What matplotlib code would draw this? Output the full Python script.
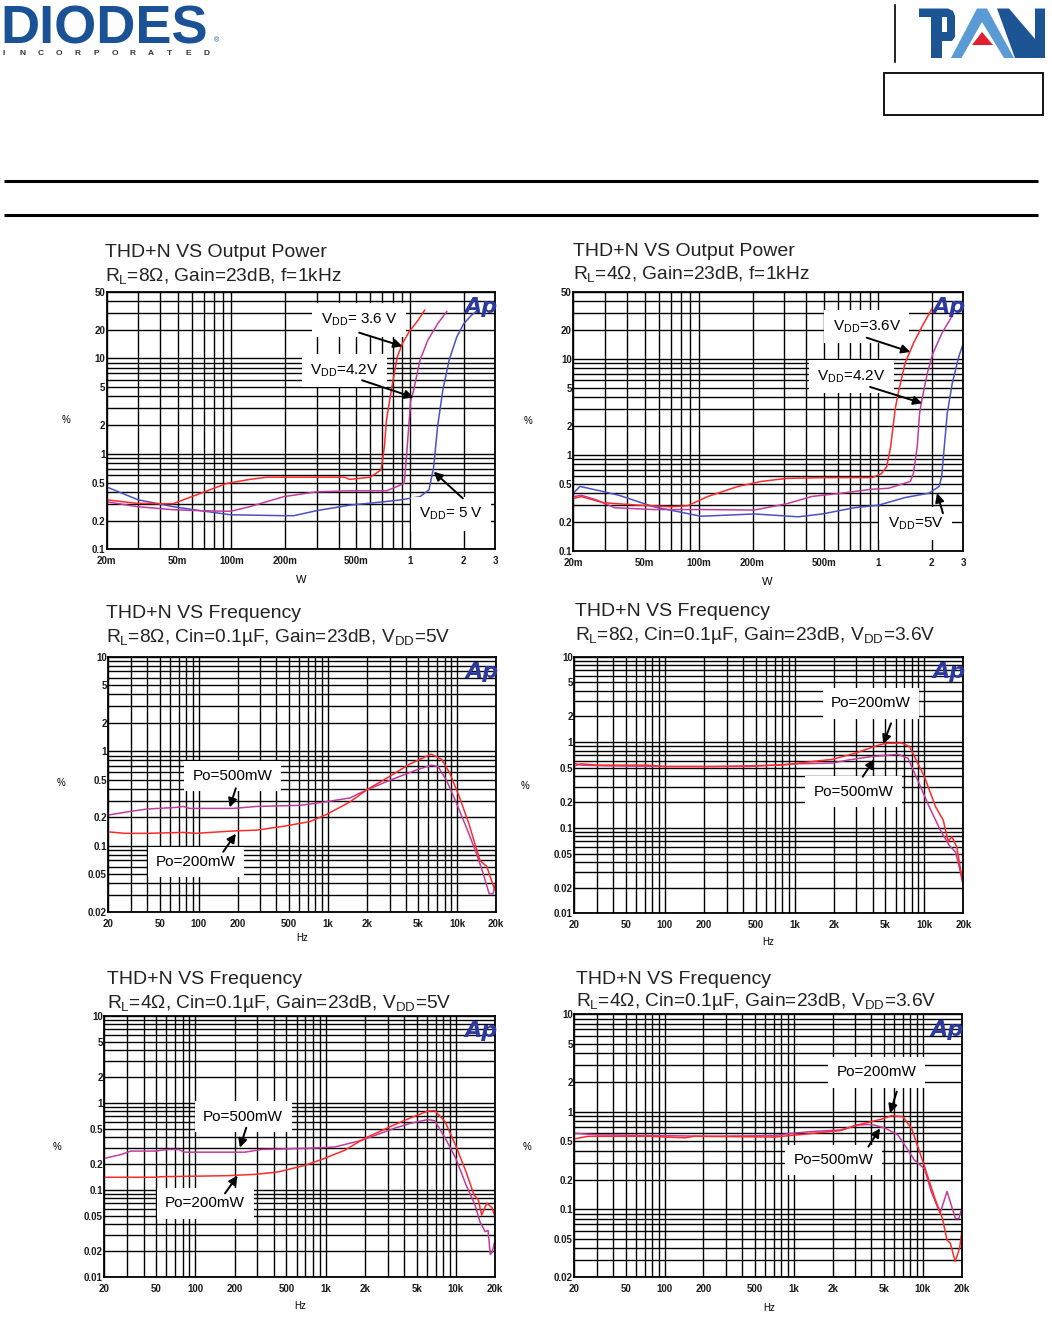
import numpy as np
import matplotlib.pyplot as plt
from matplotlib.patches import Polygon, Rectangle

plt.rcParams['font.family'] = ['Liberation Sans', 'DejaVu Sans']
plt.rcParams['mathtext.fontset'] = 'custom'
plt.rcParams['mathtext.rm'] = 'Liberation Sans'
plt.rcParams['mathtext.it'] = 'Liberation Sans:italic'
plt.rcParams['mathtext.bf'] = 'Liberation Sans:bold'

RED = '#ff2a2a'
MAG = '#c23c9e'
BLUE = '#4a52c2'

# ---- panel 1: THD+N vs output power, RL=8 ohm
p1_w_36 = [0.02, 0.0295, 0.047, 0.067, 0.094, 0.127, 0.158, 0.24, 0.43, 0.46, 0.60, 0.69,
           0.72, 0.74, 0.80, 0.85, 0.91, 0.99, 1.11, 1.21]
p1_thd_36 = [0.33, 0.303, 0.30, 0.385, 0.49, 0.54, 0.57, 0.57, 0.57, 0.54, 0.57, 0.68,
             1.19, 2.3, 5.5, 10.4, 14.4, 19, 25, 32]
p1_w_42 = [0.02, 0.0295, 0.047, 0.067, 0.099, 0.127, 0.196, 0.30, 0.46, 0.74, 0.93, 0.96,
           1.01, 1.05, 1.14, 1.26, 1.43, 1.61]
p1_thd_42 = [0.315, 0.28, 0.26, 0.254, 0.25, 0.28, 0.356, 0.40, 0.41, 0.41, 0.49, 1.0,
             3.6, 4.65, 9.6, 15.5, 23, 31]
p1_w_5 = [0.02, 0.030, 0.047, 0.067, 0.099, 0.196, 0.224, 0.30, 0.46, 0.72, 0.89, 1.14,
          1.28, 1.36, 1.43, 1.53, 1.66, 1.83, 2.0, 2.2, 2.35]
p1_thd_5 = [0.45, 0.33, 0.28, 0.254, 0.23, 0.225, 0.225, 0.254, 0.29, 0.315, 0.33, 0.356,
            0.42, 0.73, 1.93, 4.65, 9.6, 16.7, 23, 28, 31]

# ---- panel 2: THD+N vs output power, RL=4 ohm
p2_w_36 = [0.02, 0.0222, 0.0295, 0.045, 0.070, 0.087, 0.112, 0.166, 0.224, 0.31, 0.49, 0.93,
           1.05, 1.12, 1.18, 1.25, 1.31, 1.42, 1.58, 1.76, 2.0]
p2_thd_36 = [0.353, 0.368, 0.318, 0.301, 0.289, 0.296, 0.368, 0.47, 0.53, 0.57, 0.58, 0.58,
             0.64, 0.75, 1.22, 3.0, 4.7, 9.0, 14.5, 21.5, 33]
p2_w_42 = [0.02, 0.0222, 0.027, 0.034, 0.056, 0.103, 0.205, 0.31, 0.43, 0.63, 0.93, 1.15,
           1.52, 1.58, 1.66, 1.71, 1.76, 1.89, 2.03, 2.28, 2.6]
p2_thd_42 = [0.368, 0.38, 0.34, 0.282, 0.27, 0.27, 0.267, 0.31, 0.37, 0.40, 0.44, 0.45,
             0.53, 0.64, 1.22, 2.7, 3.7, 7.1, 11.4, 18.5, 28]
p2_w_5 = [0.02, 0.0218, 0.0295, 0.036, 0.056, 0.103, 0.205, 0.36, 0.49, 0.74, 1.01, 1.42,
          1.93, 2.2, 2.27, 2.35, 2.44, 2.6, 2.83, 3.0]
p2_thd_5 = [0.40, 0.47, 0.415, 0.38, 0.289, 0.23, 0.243, 0.227, 0.243, 0.282, 0.30, 0.36,
            0.40, 0.47, 0.59, 1.22, 2.7, 5.5, 10.5, 14.5]

# ---- panel 3: THD+N vs frequency, RL=8 ohm, VDD=5V
p3_f_500 = [20, 29.4, 39.6, 67, 76, 85, 185, 280, 610, 920, 1480, 2000, 3000, 4800, 6300,
            7100, 8300, 9900, 12000, 14100, 15900, 17700, 19000, 20000]
p3_thd_500 = [0.211, 0.23, 0.244, 0.254, 0.26, 0.248, 0.248, 0.26, 0.267, 0.288, 0.32, 0.39,
              0.49, 0.63, 0.71, 0.69, 0.49, 0.28, 0.147, 0.083, 0.051, 0.031, 0.031, 0.043]
p3_f_200 = [20, 27, 40, 76, 95, 185, 280, 450, 730, 970, 1480, 2000, 3000, 4300, 6300, 7600,
            8800, 10400, 12300, 15000, 17000, 18000, 19600, 20000]
p3_thd_200 = [0.140, 0.135, 0.135, 0.138, 0.135, 0.143, 0.146, 0.16, 0.18, 0.213, 0.29, 0.39,
              0.54, 0.73, 0.93, 0.82, 0.58, 0.33, 0.173, 0.07, 0.06, 0.047, 0.034, 0.037]

# ---- panel 4: THD+N vs frequency, RL=8 ohm, VDD=3.6V
p4_f_200 = [20, 22.5, 30, 72, 100, 244, 440, 795, 1070, 1940, 2900, 4200, 5000, 6700, 7700,
            8900, 10000, 12200, 14000, 15300, 16300, 17800, 20000]
p4_thd_200 = [0.527, 0.56, 0.54, 0.54, 0.52, 0.52, 0.53, 0.54, 0.57, 0.63, 0.74, 0.90, 0.97,
              0.98, 0.89, 0.57, 0.40, 0.177, 0.123, 0.069, 0.079, 0.06, 0.021]
p4_f_500 = [20, 22.5, 35, 100, 440, 1070, 1940, 2600, 3900, 4900, 6300, 7500, 8900, 10900,
            13300, 15500, 17400, 18600, 20000]
p4_thd_500 = [0.568, 0.54, 0.53, 0.52, 0.52, 0.56, 0.57, 0.62, 0.68, 0.70, 0.72, 0.65, 0.36,
              0.177, 0.094, 0.063, 0.052, 0.035, 0.021]

# ---- panel 5: THD+N vs frequency, RL=4 ohm, VDD=5V
p5_f_500 = [20, 27, 32, 49, 62, 74, 83, 240, 322, 783, 1180, 1900, 3400, 4500, 6100, 6900,
            8300, 10000, 12000, 14100, 15300, 16800, 17700, 18400, 19000, 20000]
p5_thd_500 = [0.229, 0.254, 0.278, 0.278, 0.29, 0.29, 0.27, 0.27, 0.29, 0.30, 0.31, 0.37,
              0.51, 0.58, 0.64, 0.62, 0.39, 0.23, 0.113, 0.066, 0.043, 0.033, 0.034, 0.018,
              0.019, 0.026]
p5_f_200 = [20, 49, 55, 179, 213, 288, 432, 690, 930, 1410, 2000, 3400, 4500, 6100, 6900,
            8300, 10000, 12000, 13800, 14900, 15800, 17300, 19000, 20000]
p5_thd_200 = [0.139, 0.139, 0.141, 0.145, 0.147, 0.15, 0.16, 0.19, 0.222, 0.285, 0.39, 0.56,
              0.67, 0.80, 0.81, 0.60, 0.32, 0.16, 0.087, 0.076, 0.051, 0.07, 0.062, 0.049]

# ---- panel 6: THD+N vs frequency, RL=4 ohm, VDD=3.6V
p6_f_500 = [20, 31, 75, 240, 710, 960, 1460, 2300, 3100, 3800, 4200, 5100, 6400, 7200, 8600,
            10300, 11600, 13600, 15400, 17900, 19000, 20000]
p6_thd_500 = [0.60, 0.58, 0.57, 0.56, 0.57, 0.60, 0.63, 0.65, 0.73, 0.74, 0.73, 0.68, 0.58,
              0.46, 0.32, 0.26, 0.152, 0.091, 0.152, 0.08, 0.08, 0.102]
p6_f_200 = [20, 25.5, 75, 144, 170, 710, 1080, 2300, 3100, 4800, 5700, 7000, 8200, 10000,
            12400, 14200, 15400, 16300, 17800, 19300, 20000]
p6_thd_200 = [0.526, 0.56, 0.56, 0.54, 0.56, 0.55, 0.58, 0.64, 0.73, 0.84, 0.91, 0.89, 0.67,
              0.31, 0.129, 0.08, 0.048, 0.045, 0.029, 0.04, 0.059]

pw_ticks = [0.02, 0.05, 0.1, 0.2, 0.5, 1, 2, 3]
pw_labels = ['20m', '50m', '100m', '200m', '500m', '1', '2', '3']
pw_yticks = [0.1, 0.2, 0.5, 1, 2, 5, 10, 20, 50]
pw_ylabels = ['0.1', '0.2', '0.5', '1', '2', '5', '10', '20', '50']
f_ticks = [20, 50, 100, 200, 500, 1000, 2000, 5000, 10000, 20000]
f_labels = ['20', '50', '100', '200', '500', '1k', '2k', '5k', '10k', '20k']
f_yticks = [0.01, 0.02, 0.05, 0.1, 0.2, 0.5, 1, 2, 5, 10]
f_ylabels = ['0.01', '0.02', '0.05', '0.1', '0.2', '0.5', '1', '2', '5', '10']

W, H = 1052, 1322
fig = plt.figure(figsize=(W / 100, H / 100), dpi=100)

# overlay in pixel coordinates for header and texts
ov = fig.add_axes([0, 0, 1, 1])
ov.set_xlim(0, W)
ov.set_ylim(H, 0)
ov.axis('off')

# ---- DIODES logo
ov.text(0, 44, 'DIODES', fontsize=39, weight='bold', color='#1b5296', ha='left', va='baseline')
ov.plot([0, 206], [23, 23], color='white', lw=1.1)
for i, ch in enumerate('INCORPORATED'):
    ov.text(4 + i * 18.4, 53.5, ch, fontsize=6, weight='bold', color='#333333', ha='center', va='center')
ov.text(216, 41, '®', fontsize=5, color='#1b5296', ha='center', va='center')

# ---- PAM logo
ov.plot([895, 895], [5, 62], color='black', lw=1.2)
ov.add_patch(Polygon([(919, 8.5), (948, 8.5), (953, 11), (955, 16), (955, 37), (952, 41), (942, 41),
                      (942, 58), (931, 58), (931, 17), (919, 17)], color='#1c5494', lw=0))
ov.add_patch(Polygon([(942, 17), (947, 17), (947, 32), (942, 32)], color='white', lw=0))
ov.add_patch(Polygon([(977, 8.5), (987, 8.5), (1014, 58), (1004, 58), (982, 22), (961.5, 58), (951, 58)],
                     color='#5b9bd5', lw=0))
ov.add_patch(Polygon([(982, 32), (972, 45), (993, 45)], color='#e0202e', lw=0))
ov.add_patch(Polygon([(997, 8.5), (1009, 8.5), (1035, 39), (1035, 8.5), (1045, 8.5), (1045, 58),
                      (1015, 58)], color='#1c5494', lw=0))
ov.add_patch(Rectangle((884, 73), 159, 42, fill=False, ec='black', lw=1.3))
ov.plot([4, 1038], [180.5, 180.5], color='black', lw=2.2, solid_capstyle='butt')
ov.plot([4, 1038], [215, 215], color='black', lw=2.2, solid_capstyle='butt')


def grid_vals(lo, hi):
    vals = []
    for e in range(-3, 6):
        for m in range(1, 10):
            v = m * 10.0 ** e
            if lo * 0.999 <= v <= hi * 1.001:
                vals.append(v)
    return vals


def make_axes(box, xlim, ylim, xt, xl, yt, yl):
    l, r, t, b = box
    ax = fig.add_axes([l / W, 1 - b / H, (r - l) / W, (b - t) / H])
    ax.set_xscale('log')
    ax.set_yscale('log')
    ax.set_xlim(*xlim)
    ax.set_ylim(*ylim)
    ax.set_xticks(grid_vals(*xlim), minor=True)
    ax.set_yticks(grid_vals(*ylim), minor=True)
    ax.set_xticks(xt)
    ax.set_xticklabels(xl, fontweight='bold')
    ax.set_yticks(yt)
    ax.set_yticklabels(yl, fontweight='bold')
    ax.tick_params(which='both', length=0, labelsize=7, colors='#1a1a1a')
    ax.tick_params(axis='y', pad=1)
    ax.tick_params(axis='x', pad=5)
    ax.grid(which='both', color='black', lw=1.0)
    for s in ax.spines.values():
        s.set_linewidth(1.3)
    ax.text(0.963, 0.94, 'Ap', transform=ax.transAxes, fontsize=16, weight='bold', style='italic',
            family='DejaVu Sans', color='#2b3a9c', ha='center', va='center', zorder=5)
    return ax


def label(ax, x, y, txt):
    ax.text(x, y, txt, fontsize=11, ha='center', va='center', zorder=4,
            bbox=dict(boxstyle='square,pad=0.55', facecolor='white', edgecolor='none'))


def arrow(ax, tail, head):
    ax.annotate('', xy=head, xytext=tail, zorder=6,
                arrowprops=dict(arrowstyle='-|>', color='black', lw=1.4, mutation_scale=13,
                                shrinkA=0, shrinkB=0))


def titles(x, y, t1, t2):
    ov.text(x, y, t1, fontsize=14, color='#222222', ha='left', va='center')
    ov.text(x, y + 23, t2, fontsize=13.8, color='#222222', ha='left', va='center')


# ---------------- panel 1
ax = make_axes((106.7, 495, 291.7, 549.3), (0.02, 3), (0.1, 50), pw_ticks, pw_labels, pw_yticks, pw_ylabels)
ax.plot(p1_w_5, p1_thd_5, color=BLUE, lw=1.1)
ax.plot(p1_w_42, p1_thd_42, color=MAG, lw=1.1)
ax.plot(p1_w_36, p1_thd_36, color=RED, lw=1.1)
label(ax, 0.52, 25.2, r'V$_{\rm DD}$= 3.6 V')
arrow(ax, (0.52, 18.6), (0.909, 13.4))
label(ax, 0.43, 7.4, r'V$_{\rm DD}$=4.2V')
arrow(ax, (0.54, 5.9), (1.05, 3.9))
label(ax, 1.70, 0.234, r'V$_{\rm DD}$= 5 V')
arrow(ax, (1.98, 0.342), (1.36, 0.65))
titles(105, 252.5, 'THD+N VS Output Power', r'R$_{\rm L}$=8Ω, Gain=23dB, f=1kHz')
ov.text(66, 420, '%', fontsize=7, ha='center', va='center')
ov.text(301, 580, 'W', fontsize=8, ha='center', va='center')

# ---------------- panel 2
ax = make_axes((573.3, 963.3, 291.7, 551), (0.02, 3), (0.1, 50), pw_ticks, pw_labels, pw_yticks, pw_ylabels)
ax.plot(p2_w_5, p2_thd_5, color=BLUE, lw=1.1)
ax.plot(p2_w_42, p2_thd_42, color=MAG, lw=1.1)
ax.plot(p2_w_36, p2_thd_36, color=RED, lw=1.1)
label(ax, 0.867, 21.6, r'V$_{\rm DD}$=3.6V')
arrow(ax, (0.867, 16.6), (1.52, 11.8))
label(ax, 0.714, 6.5, r'V$_{\rm DD}$=4.2V')
arrow(ax, (0.906, 5.1), (1.77, 3.45))
label(ax, 1.62, 0.194, r'V$_{\rm DD}$=5V')
arrow(ax, (2.31, 0.247), (2.14, 0.40))
titles(573, 251, 'THD+N VS Output Power', r'R$_{\rm L}$=4Ω, Gain=23dB, f=1kHz')
ov.text(528, 421, '%', fontsize=7, ha='center', va='center')
ov.text(767, 582, 'W', fontsize=8, ha='center', va='center')

# ---------------- panel 3
ax = make_axes((108.3, 496, 656.7, 911.7), (20, 20000), (0.02, 10), f_ticks, f_labels, f_yticks[1:], f_ylabels[1:])
ax.plot(p3_f_500, p3_thd_500, color=MAG, lw=1.1)
ax.plot(p3_f_200, p3_thd_200, color=RED, lw=1.1)
label(ax, 183, 0.546, 'Po=500mW')
arrow(ax, (194, 0.405), (174, 0.254))
label(ax, 95.4, 0.067, 'Po=200mW')
arrow(ax, (155, 0.086), (194, 0.134))
titles(106, 614, 'THD+N VS Frequency', r'R$_{\rm L}$=8Ω, Cin=0.1µF, Gain=23dB, V$_{\rm DD}$=5V')
ov.text(61, 783, '%', fontsize=7, ha='center', va='center')
ov.text(302, 938, 'Hz', fontsize=7, ha='center', va='center')

# ---------------- panel 4
ax = make_axes((574.3, 963.3, 656.7, 913.3), (20, 20000), (0.01, 10), f_ticks, f_labels, f_yticks, f_ylabels)
ax.plot(p4_f_500, p4_thd_500, color=MAG, lw=1.1)
ax.plot(p4_f_200, p4_thd_200, color=RED, lw=1.1)
label(ax, 3880, 2.85, 'Po=200mW')
arrow(ax, (5540, 1.66), (4830, 0.953))
label(ax, 2835, 0.264, 'Po=500mW')
arrow(ax, (3350, 0.395), (4120, 0.63))
titles(575, 612, 'THD+N VS Frequency', r'R$_{\rm L}$=8Ω, Cin=0.1µF, Gain=23dB, V$_{\rm DD}$=3.6V')
ov.text(525, 786, '%', fontsize=7, ha='center', va='center')
ov.text(768, 942, 'Hz', fontsize=7, ha='center', va='center')

# ---------------- panel 5
ax = make_axes((104.3, 495, 1015.7, 1276.7), (20, 20000), (0.01, 10), f_ticks, f_labels, f_yticks, f_ylabels)
ax.plot(p5_f_500, p5_thd_500, color=MAG, lw=1.1)
ax.plot(p5_f_200, p5_thd_200, color=RED, lw=1.1)
label(ax, 233, 0.69, 'Po=500mW')
arrow(ax, (246, 0.516), (220, 0.304))
label(ax, 119, 0.0697, 'Po=200mW')
arrow(ax, (169, 0.0906), (211, 0.145))
titles(107, 980, 'THD+N VS Frequency', r'R$_{\rm L}$=4Ω, Cin=0.1µF, Gain=23dB, V$_{\rm DD}$=5V')
ov.text(57, 1147, '%', fontsize=7, ha='center', va='center')
ov.text(300, 1306, 'Hz', fontsize=7, ha='center', va='center')

# ---------------- panel 6
ax = make_axes((574.3, 961.7, 1014.3, 1277.3), (20, 20000), (0.02, 10), f_ticks, f_labels, f_yticks[1:], f_ylabels[1:])
ax.plot(p6_f_500, p6_thd_500, color=MAG, lw=1.1)
ax.plot(p6_f_200, p6_thd_200, color=RED, lw=1.1)
label(ax, 4395, 2.54, 'Po=200mW')
arrow(ax, (6280, 1.61), (5570, 0.964))
label(ax, 2030, 0.32, 'Po=500mW')
arrow(ax, (3785, 0.438), (4660, 0.676))
titles(576, 979, 'THD+N VS Frequency', r'R$_{\rm L}$=4Ω, Cin=0.1µF, Gain=23dB, V$_{\rm DD}$=3.6V')
ov.text(527, 1147, '%', fontsize=7, ha='center', va='center')
ov.text(769, 1308, 'Hz', fontsize=7, ha='center', va='center')

fig.savefig('out.png', dpi=100)
